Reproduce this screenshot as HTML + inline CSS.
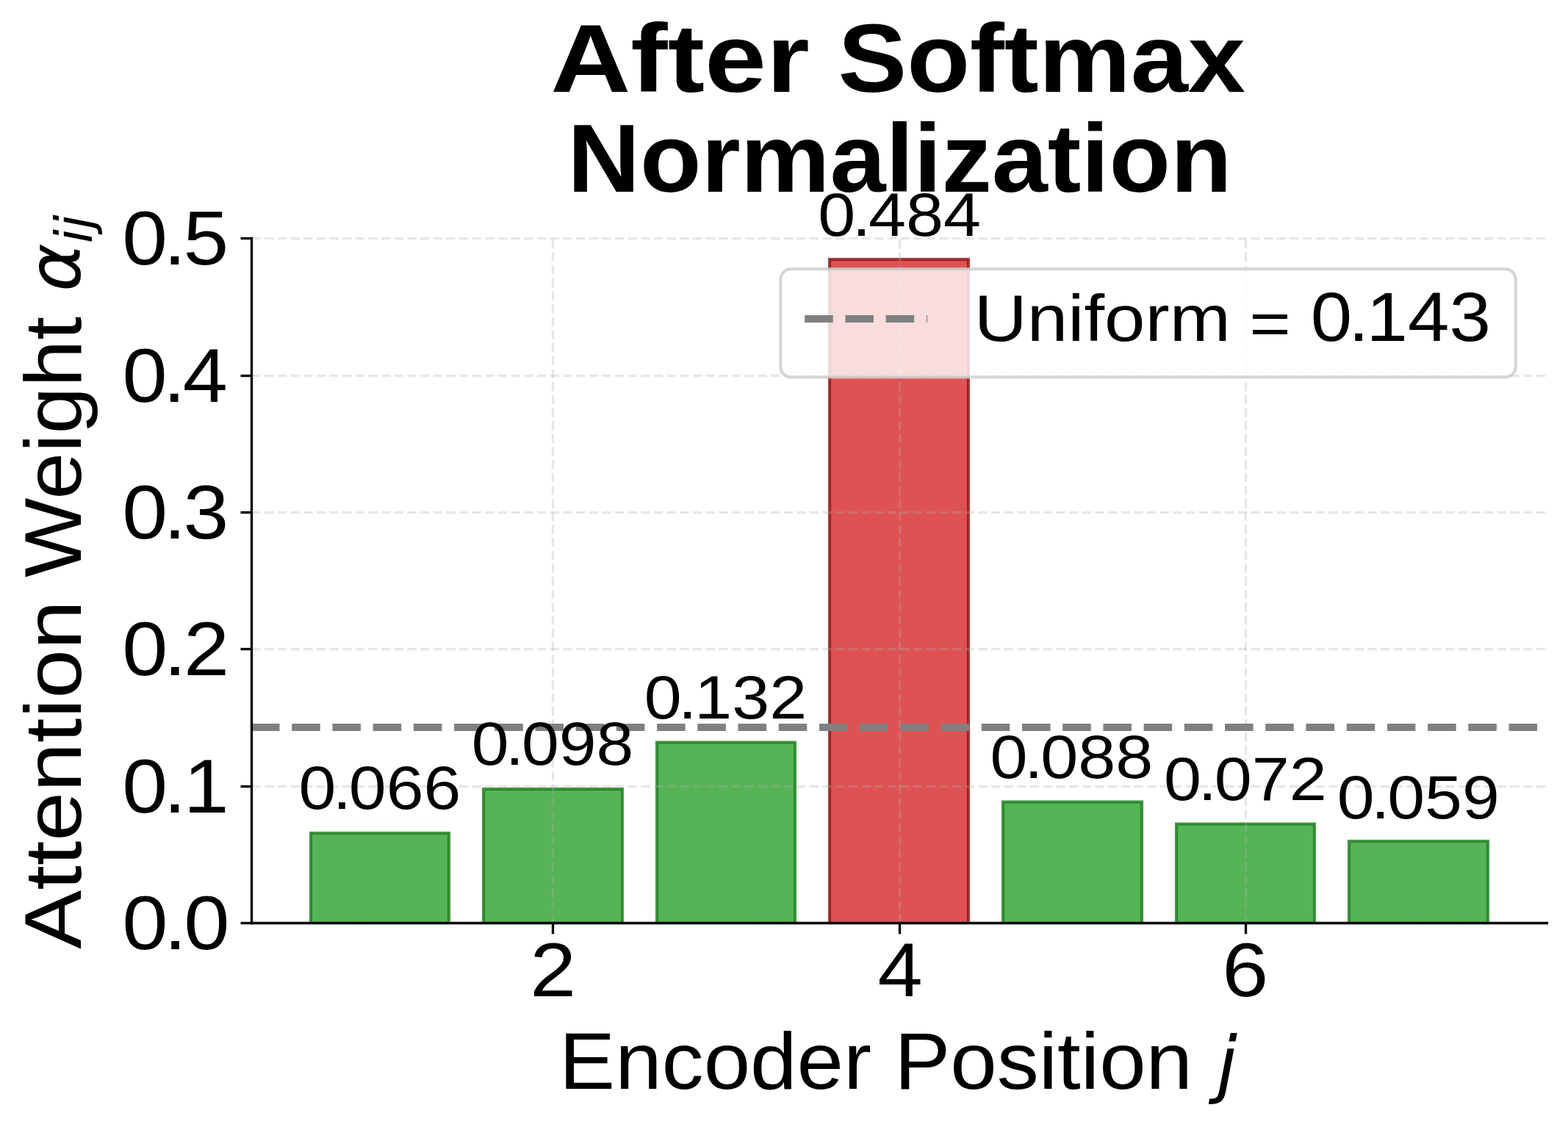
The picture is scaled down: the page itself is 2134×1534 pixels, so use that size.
<!DOCTYPE html>
<html lang="en">
<head>
<meta charset="utf-8">
<title>After Softmax Normalization</title>
<style>html,body{margin:0;padding:0;background:#fff}body{width:2134px;height:1534px;overflow:hidden}svg{display:block}text{fill:#000;white-space:pre;font-family:'Liberation Sans',sans-serif}.b text{font-weight:bold}text.m{font-family:'DejaVu Sans',sans-serif;font-style:italic}</style>
</head>
<body>
<svg width="2134" height="1534" viewBox="0 0 2134 1534" role="img" aria-label="After Softmax Normalization bar chart">
<rect width="2134" height="1534" fill="#fff"/>
<defs><clipPath id="ax"><rect x="342.5" y="322.5" width="1762.9" height="934.2"/></clipPath></defs>
<g clip-path="url(#ax)">
<g id="bars" stroke-width="4.17" stroke-linejoin="miter" fill-opacity="0.8" stroke-opacity="0.8">
<rect x="423" y="1134" width="188" height="123" fill="#2ca02c" stroke="#1b7c1b"/>
<rect x="658" y="1074" width="189" height="183" fill="#2ca02c" stroke="#1b7c1b"/>
<rect x="894" y="1010.5" width="188" height="246.5" fill="#2ca02c" stroke="#1b7c1b"/>
<rect x="1129" y="353" width="189" height="904" fill="#d62728" stroke="#881414"/>
<rect x="1365" y="1091.5" width="189" height="165.5" fill="#2ca02c" stroke="#1b7c1b"/>
<rect x="1601" y="1121.5" width="188" height="135.5" fill="#2ca02c" stroke="#1b7c1b"/>
<rect x="1836" y="1145" width="189" height="112" fill="#2ca02c" stroke="#1b7c1b"/>
</g>
<g id="grid" stroke="#b0b0b0" stroke-opacity="0.3" stroke-width="3.33" stroke-dasharray="12.33 5.33" fill="none">
<line x1="752.5" y1="1256.5" x2="752.5" y2="324.5"/>
<line x1="1224.5" y1="1256.5" x2="1224.5" y2="324.5"/>
<line x1="1695.5" y1="1256.5" x2="1695.5" y2="324.5"/>
<line x1="342.5" y1="1256.5" x2="2105.4" y2="1256.5"/>
<line x1="342.5" y1="1070.5" x2="2105.4" y2="1070.5"/>
<line x1="342.5" y1="883.5" x2="2105.4" y2="883.5"/>
<line x1="342.5" y1="697.5" x2="2105.4" y2="697.5"/>
<line x1="342.5" y1="511.5" x2="2105.4" y2="511.5"/>
<line x1="342.5" y1="324.5" x2="2105.4" y2="324.5"/>
</g>
<line id="uniform" x1="342" y1="990.0" x2="2105.4" y2="990.0" stroke="#808080" stroke-width="10.2" stroke-dasharray="38.54 16.67"/>
</g>
<g id="axes" stroke="#000" stroke-width="3.33" fill="none">
<line x1="342.5" y1="322.83" x2="342.5" y2="1258.17"/>
<line x1="340.83" y1="1256.5" x2="2107.07" y2="1256.5"/>
<line x1="752.5" y1="1256.5" x2="752.5" y2="1271.30"/>
<line x1="1224.5" y1="1256.5" x2="1224.5" y2="1271.30"/>
<line x1="1695.5" y1="1256.5" x2="1695.5" y2="1271.30"/>
<line x1="327.50" y1="1256.5" x2="342.5" y2="1256.5"/>
<line x1="327.50" y1="1070.5" x2="342.5" y2="1070.5"/>
<line x1="327.50" y1="883.5" x2="342.5" y2="883.5"/>
<line x1="327.50" y1="697.5" x2="342.5" y2="697.5"/>
<line x1="327.50" y1="511.5" x2="342.5" y2="511.5"/>
<line x1="327.50" y1="324.5" x2="342.5" y2="324.5"/>
</g>
<g id="title" class="b">
<text transform="translate(749.32,125.3) scale(1.1397,1)" font-size="132.5">After</text>
<text transform="translate(1140.38,125.3) scale(1.0611,1)" font-size="132.5">Softmax</text>
<text transform="translate(772.27,260.6) scale(1.0322,1)" font-size="132.5">Normalization</text>
</g>
<g id="yticks">
<text transform="translate(166.32,1292.4) scale(1.0689,1)" font-size="104.7" dx="0 -5.24 -3.66">0.0</text>
<text transform="translate(166.35,1106.4) scale(1.0620,1)" font-size="104.7" dx="0 -5.24 -3.66">0.1</text>
<text transform="translate(166.34,919.4) scale(1.0659,1)" font-size="104.7" dx="0 -5.24 -3.66">0.2</text>
<text transform="translate(166.35,733.4) scale(1.0616,1)" font-size="104.7" dx="0 -5.24 -3.66">0.3</text>
<text transform="translate(166.41,547.4) scale(1.0487,1)" font-size="104.7" dx="0 -5.24 -3.66">0.4</text>
<text transform="translate(166.36,360.4) scale(1.0594,1)" font-size="104.7" dx="0 -5.24 -3.66">0.5</text>
</g>
<g id="xticks">
<text transform="translate(721.15,1356.3) scale(1.0790,1)" font-size="104.7">2</text>
<text transform="translate(1194.52,1356.3) scale(1.0516,1)" font-size="104.7">4</text>
<text transform="translate(1663.24,1356.3) scale(1.0821,1)" font-size="104.7">6</text>
</g>
<g id="xlabel">
<text transform="translate(761.09,1481.7) scale(1.0461,1)" font-size="109.04">Encoder</text>
<text transform="translate(1217.19,1481.7) scale(1.0464,1)" font-size="109.04">Position</text>
<text class="m" transform="translate(1656.05,1482) scale(1.0000,1)" font-size="100">j</text>
</g>
<g id="ylabel">
<text transform="translate(109.5,1291.7) rotate(-90) scale(1.1026,1)" font-size="109.04">Attention</text>
<text transform="translate(109.5,786.07) rotate(-90) scale(1.0526,1)" font-size="109.04">Weight</text>
<text class="m" transform="translate(109.3,396.91) rotate(-90) scale(1.0017,1)" font-size="100">α</text>
<text class="m" transform="translate(125.3,331.14) rotate(-90) scale(0.9945,1)" font-size="70">ij</text>
</g>
<g id="barlabels">
<text transform="translate(406.45,1100.9) scale(1.1007,1)" font-size="83" dx="0 -4.15 -2.91 0 0">0.066</text>
<text transform="translate(641.65,1041.3) scale(1.1001,1)" font-size="83" dx="0 -4.15 -2.91 0 0">0.098</text>
<text transform="translate(876.63,978.2) scale(1.1041,1)" font-size="83" dx="0 -4.15 -2.91 0 0">0.132</text>
<text transform="translate(1113.23,321.1) scale(1.1055,1)" font-size="83" dx="0 -4.15 -2.91 0 0">0.484</text>
<text transform="translate(1347.53,1059) scale(1.1058,1)" font-size="83" dx="0 -4.15 -2.91 0 0">0.088</text>
<text transform="translate(1584.03,1089.1) scale(1.1057,1)" font-size="83" dx="0 -4.15 -2.91 0 0">0.072</text>
<text transform="translate(1819.85,1113.8) scale(1.1009,1)" font-size="83" dx="0 -4.15 -2.91 0 0">0.059</text>
</g>
<g id="legend">
<rect x="1062.3" y="366.2" width="1000.5" height="147.2" rx="14.5" ry="14.5" fill="#fff" fill-opacity="0.8" stroke="#ccc" stroke-opacity="0.8" stroke-width="4.17"/>
<line x1="1095.2" y1="434" x2="1262" y2="434" stroke="#808080" stroke-width="10.2" stroke-dasharray="38.54 16.67"/>
<text transform="translate(1325.77,464) scale(1.1130,1)" font-size="89.6">Uniform</text>
<text transform="translate(1700.36,468.5) scale(1.0287,0.89)" font-size="94">=</text>
<text transform="translate(1783.64,464.3) scale(1.0791,1)" font-size="94" dx="0 -4.7 -3.29 0 0">0.143</text>
</g>
</svg>
</body>
</html>
